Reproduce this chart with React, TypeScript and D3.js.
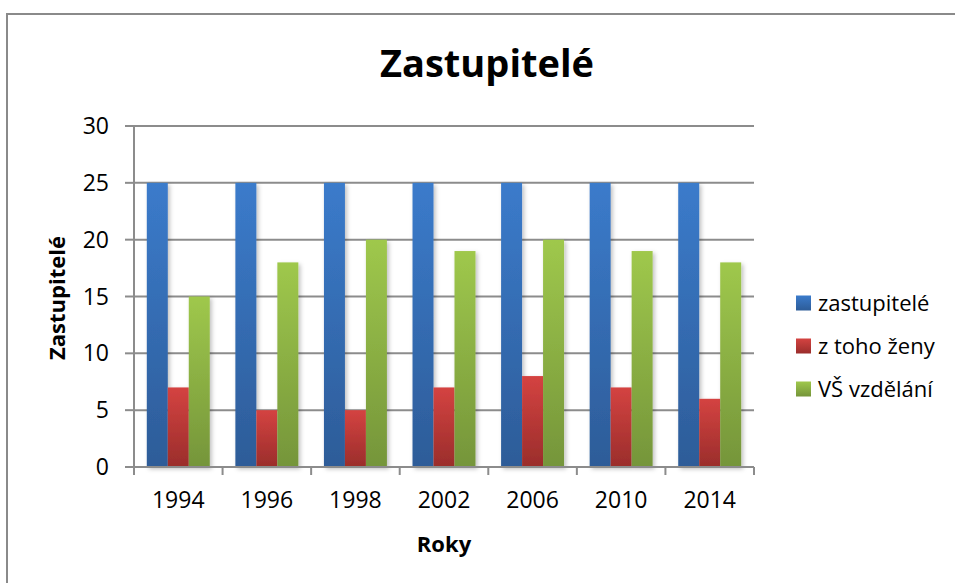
import React from 'react'
import * as d3 from 'd3'

const years = ['1994', '1996', '1998', '2002', '2006', '2010', '2014']
const zastupitele = [25, 25, 25, 25, 25, 25, 25]
const zeny = [7, 5, 5, 7, 8, 7, 6]
const vs = [15, 18, 20, 19, 20, 19, 18]
const seriesNames = ['zastupitelé', 'z toho ženy', 'VŠ vzdělání']
const yTicks = [0, 5, 10, 15, 20, 25, 30]

// gradient stops per series: top, bottom
const colors = [
  ['#3b7bcb', '#2d5c98'],
  ['#d44341', '#9a2d2b'],
  ['#9fc84c', '#75953a'],
]

const font = '"Open Sans", sans-serif'

function App() {
  const width = 955
  const height = 583
  const left = 134
  const right = 754
  const top = 126
  const bottom = 467

  const series = [zastupitele, zeny, vs]

  const x = d3.scaleBand().domain(years).range([left, right]).paddingInner(0).paddingOuter(0)
  const inner = d3.scaleBand().domain(['0', '1', '2']).range([0, x.bandwidth()]).paddingInner(0).paddingOuter(0.61)
  const y = d3.scaleLinear().domain([0, 30]).range([bottom, top])

  const tickX = years.map((_, i) => left + i * x.step()).concat([right])

  return (
    <svg width={width} height={height} style={{ position: 'fixed', left: 0, top: 0, background: '#fff' }}>
      <defs>
        {colors.map((c, i) => (
          <linearGradient key={i} id={'g' + i} x1="0" y1="0" x2="0" y2="1">
            <stop offset="0" stopColor={c[0]} />
            <stop offset="1" stopColor={c[1]} />
          </linearGradient>
        ))}
        <filter id="shadow" x="-30%" y="-10%" width="160%" height="130%">
          <feDropShadow dx="2" dy="2" stdDeviation="2" floodColor="#000" floodOpacity="0.25" />
        </filter>
      </defs>

      <rect x={7} y={14} width={1000} height={1000} fill="none" stroke="#8a8a8a" strokeWidth={2} />

      <text x={487} y={77} textAnchor="middle" fontFamily={font} fontWeight="bold" fontSize={38} fill="#000">
        Zastupitelé
      </text>

      {/* gridlines */}
      {yTicks.filter((t) => t > 0).map((t) => (
        <line key={t} x1={left} x2={right} y1={y(t)} y2={y(t)} stroke="#8c8c8c" strokeWidth={2} />
      ))}

      {/* bars */}
      <g filter="url(#shadow)">
        {series.map((vals, si) =>
          vals.map((v, i) => (
            <rect
              key={si + '-' + i}
              x={(x(years[i]) as number) + (inner(String(si)) as number)}
              y={y(v)}
              width={inner.bandwidth()}
              height={y(0) - y(v)}
              fill={`url(#g${si})`}
            />
          ))
        )}
      </g>

      {/* axes */}
      <line x1={left} x2={left} y1={top} y2={bottom} stroke="#8c8c8c" strokeWidth={2} />
      <line x1={left} x2={right} y1={bottom} y2={bottom} stroke="#8c8c8c" strokeWidth={2} />
      {yTicks.map((t) => (
        <g key={t}>
          <line x1={125} x2={left} y1={y(t)} y2={y(t)} stroke="#8c8c8c" strokeWidth={2} />
          <text x={109} y={y(t)} dy="0.35em" textAnchor="end" fontFamily={font} fontSize={23} fill="#000">
            {t}
          </text>
        </g>
      ))}
      {tickX.map((tx, i) => (
        <line key={i} x1={tx} x2={tx} y1={bottom} y2={bottom + 8} stroke="#8c8c8c" strokeWidth={2} />
      ))}
      {years.map((yr) => (
        <text
          key={yr}
          x={(x(yr) as number) + x.bandwidth() / 2}
          y={500}
          dy="0.35em"
          textAnchor="middle"
          fontFamily={font}
          fontSize={23}
          fill="#000"
        >
          {yr}
        </text>
      ))}

      <text x={444} y={544} dy="0.35em" textAnchor="middle" fontFamily={font} fontWeight="bold" fontSize={22} fill="#000">
        Roky
      </text>
      <text
        transform={`translate(57,298) rotate(-90)`}
        dy="0.35em"
        textAnchor="middle"
        fontFamily={font}
        fontWeight="bold"
        fontSize={22}
        fill="#000"
      >
        Zastupitelé
      </text>

      {/* legend */}
      {seriesNames.map((name, i) => {
        const cy = 303 + i * 43
        return (
          <g key={name}>
            <rect x={796} y={cy - 7.5} width={15} height={15} fill={`url(#g${i})`} />
            <text x={818} y={cy} dy="0.35em" fontFamily={font} fontSize={22} fill="#000">
              {name}
            </text>
          </g>
        )
      })}
    </svg>
  )
}

export default App
